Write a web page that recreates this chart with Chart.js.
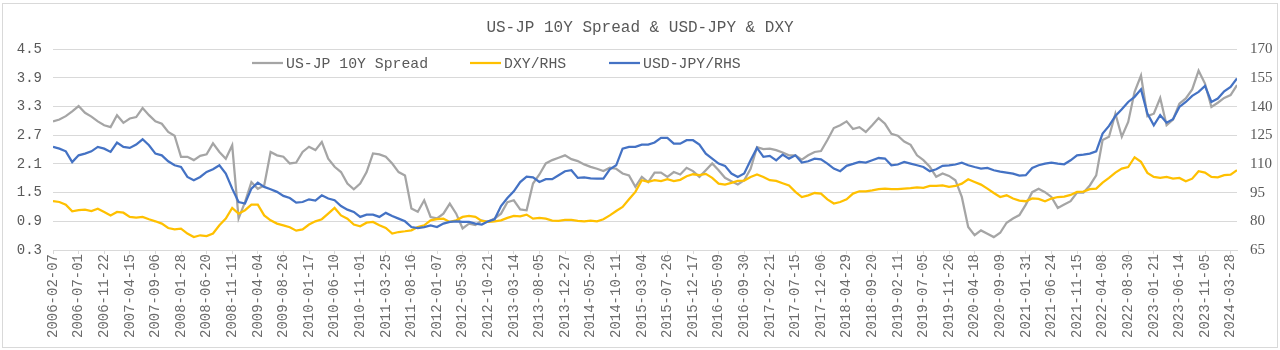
<!DOCTYPE html>
<html>
<head>
<meta charset="utf-8">
<title>US-JP 10Y Spread & USD-JPY & DXY</title>
<script src="https://cdn.jsdelivr.net/npm/chart.js@4.4.1/dist/chart.umd.min.js"></script>
<style>
  html, body { margin: 0; padding: 0; background: #fff; }
  #wrap { width: 1280px; height: 350px; }
</style>
</head>
<body>
<div id="wrap"><canvas id="spreadChart" width="1280" height="350"></canvas></div>
<script>
// x-axis tick labels (one every 4 points)
const tickLabels = [
  "2006-02-07", "2006-07-01", "2006-11-22", "2007-04-15", "2007-09-06", "2008-01-28",
  "2008-06-20", "2008-11-11", "2009-04-04", "2009-08-26", "2010-01-17", "2010-06-10",
  "2010-11-01", "2011-03-25", "2011-08-16", "2012-01-07", "2012-05-30", "2012-10-21",
  "2013-03-14", "2013-08-05", "2013-12-27", "2014-05-20", "2014-10-11", "2015-03-04",
  "2015-07-26", "2015-12-17", "2016-05-09", "2016-09-30", "2017-02-21", "2017-07-15",
  "2017-12-06", "2018-04-29", "2018-09-20", "2019-02-11", "2019-07-05", "2019-11-26",
  "2020-04-18", "2020-09-09", "2021-01-31", "2021-06-24", "2021-11-15", "2022-04-08",
  "2022-08-30", "2023-01-21", "2023-06-14", "2023-11-05", "2024-03-28"
];
const pointsPerTick = 4;

const leftTicks = [0.3, 0.9, 1.5, 2.1, 2.7, 3.3, 3.9, 4.5];
const rightTicks = [65, 80, 95, 110, 125, 140, 155, 170];

// US-JP 10Y spread (LHS)
const spread = [
  2.99, 3.03, 3.10, 3.20, 3.31, 3.17, 3.09, 2.99, 2.91, 2.87, 3.12, 2.96, 3.05, 3.08, 3.27, 3.12,
  2.99, 2.94, 2.77, 2.69, 2.25, 2.25, 2.18, 2.27, 2.30, 2.53, 2.35, 2.21, 2.49, 0.96, 1.30, 1.72,
  1.58, 1.65, 2.35, 2.28, 2.25, 2.11, 2.13, 2.35, 2.46, 2.39, 2.56, 2.21, 2.04, 1.93, 1.69, 1.57,
  1.69, 1.93, 2.32, 2.30, 2.25, 2.11, 1.93, 1.86, 1.17, 1.10, 1.34, 0.99, 0.96, 1.06, 1.27, 1.06,
  0.75, 0.85, 0.82, 0.92, 0.89, 0.96, 1.06, 1.30, 1.34, 1.15, 1.13, 1.69, 1.88, 2.11, 2.18, 2.23,
  2.28, 2.20, 2.16, 2.09, 2.04, 2.00, 1.95, 2.02, 2.00, 1.90, 1.86, 1.62, 1.83, 1.72, 1.92, 1.92,
  1.83, 1.93, 1.88, 2.02, 1.95, 1.83, 1.97, 2.11, 1.97, 1.81, 1.74, 1.67, 1.76, 2.00, 2.45, 2.41,
  2.42, 2.39, 2.34, 2.28, 2.28, 2.19, 2.28, 2.35, 2.37, 2.60, 2.85, 2.91, 2.99, 2.83, 2.87, 2.77,
  2.91, 3.06, 2.94, 2.73, 2.69, 2.57, 2.50, 2.28, 2.18, 2.04, 1.83, 1.90, 1.85, 1.76, 1.41, 0.78,
  0.61, 0.71, 0.64, 0.57, 0.66, 0.87, 0.96, 1.03, 1.25, 1.51, 1.58, 1.51, 1.41, 1.18, 1.25, 1.32,
  1.50, 1.50, 1.65, 1.86, 2.60, 2.67, 3.15, 2.67, 2.98, 3.61, 3.95, 3.10, 3.15, 3.48, 2.91, 3.03,
  3.36, 3.47, 3.66, 4.05, 3.78, 3.29, 3.38, 3.48, 3.54, 3.75
];

// DXY (RHS)
const dxy = [
  90.5, 90.1, 88.7, 85.2, 85.8, 86.1, 85.4, 86.6, 84.9, 83.1, 84.9, 84.5, 82.3, 81.9, 82.3, 81.1,
  80.0, 78.8, 76.5, 75.8, 76.2, 73.6, 71.8, 72.7, 72.3, 73.6, 77.9, 81.4, 87.0, 84.0, 85.8, 88.7,
  88.7, 83.1, 80.5, 78.8, 77.9, 76.9, 75.1, 75.8, 78.3, 80.0, 81.1, 84.0, 87.0, 83.1, 81.4, 78.3,
  77.4, 79.3, 79.7, 77.9, 76.5, 73.6, 74.4, 74.8, 75.3, 77.0, 77.9, 80.5, 81.1, 81.4, 79.7, 80.5,
  82.3, 82.8, 82.3, 80.2, 79.7, 80.0, 80.5, 81.8, 82.8, 82.6, 83.5, 81.4, 81.8, 81.4, 80.4, 80.2,
  80.7, 80.7, 80.2, 80.0, 80.4, 80.0, 81.1, 83.1, 85.4, 87.5, 91.5, 95.4, 101.5, 100.6, 101.5, 101.0,
  102.0, 101.0, 101.7, 103.6, 104.6, 104.1, 104.8, 102.7, 99.7, 99.2, 100.1, 101.1, 101.3, 103.2, 104.5, 103.2,
  101.5, 101.1, 99.9, 98.7, 95.4, 92.7, 93.6, 94.8, 94.5, 91.5, 89.3, 90.1, 91.5, 94.5, 95.7, 95.7,
  96.2, 96.8, 97.1, 96.8, 96.8, 97.1, 97.3, 97.8, 97.5, 98.5, 98.5, 98.8, 98.0, 98.5, 99.7, 102.0,
  100.6, 99.2, 97.1, 94.8, 92.7, 93.6, 91.9, 90.8, 90.5, 92.0, 91.7, 90.5, 91.9, 92.7, 92.9, 93.8,
  95.4, 95.5, 96.8, 97.1, 100.2, 102.7, 105.5, 107.6, 108.4, 113.5, 111.1, 105.3, 103.2, 102.7, 103.2, 102.3,
  102.7, 100.9, 102.3, 106.2, 105.5, 103.2, 103.0, 104.1, 104.4, 106.7
];

// USD-JPY (RHS)
const usdjpy = [
  118.9, 118.0, 116.6, 111.0, 114.5, 115.4, 116.6, 118.9, 118.0, 116.3, 121.2, 118.9, 118.4, 120.1, 122.9, 119.8,
  115.4, 114.5, 111.4, 109.3, 108.4, 103.2, 101.5, 103.2, 105.8, 107.2, 109.3, 105.0, 97.1, 90.1, 89.3, 97.1,
  100.2, 98.0, 96.8, 95.4, 93.3, 92.2, 89.8, 90.1, 91.5, 90.8, 93.6, 91.9, 91.0, 88.0, 86.1, 84.9,
  82.3, 83.5, 83.5, 82.3, 84.4, 82.8, 81.4, 80.0, 77.0, 76.5, 77.0, 77.9, 77.0, 78.8, 79.7, 80.0,
  79.7, 79.7, 78.8, 78.3, 80.0, 81.1, 88.0, 92.2, 95.7, 100.5, 103.4, 103.0, 100.6, 102.0, 102.0, 104.1,
  106.2, 106.7, 102.7, 103.0, 102.5, 102.3, 102.3, 107.2, 109.3, 118.0, 118.9, 118.9, 120.1, 120.1, 121.2, 123.6,
  123.6, 120.6, 120.6, 122.4, 122.4, 120.1, 115.4, 112.8, 110.2, 109.0, 105.0, 103.2, 105.0, 111.9, 118.4, 113.7,
  114.2, 111.9, 114.9, 112.8, 114.5, 110.7, 111.4, 112.8, 112.4, 110.2, 107.6, 106.2, 109.0, 110.0, 111.1, 110.7,
  111.9, 113.1, 112.8, 109.3, 109.7, 111.1, 110.2, 109.3, 108.4, 106.2, 107.2, 109.0, 109.3, 109.7, 110.7, 109.3,
  108.4, 107.6, 107.9, 106.7, 106.0, 105.5, 104.9, 103.9, 104.1, 107.9, 109.3, 110.2, 110.7, 110.2, 109.8, 111.9,
  114.5, 114.9, 115.4, 116.6, 125.9, 129.9, 135.1, 138.6, 142.4, 145.1, 149.0, 136.3, 130.2, 135.5, 131.6, 133.4,
  139.8, 142.4, 145.6, 147.7, 150.8, 142.4, 144.2, 148.0, 150.3, 154.7
];

const seriesNames = ["US-JP 10Y Spread", "DXY/RHS", "USD-JPY/RHS"];
const seriesColors = ["#A5A5A5", "#FFC000", "#4472C4"];

const toXY = arr => arr.map((v, i) => ({ x: i / pointsPerTick, y: v }));
const lastX = (spread.length - 1) / pointsPerTick;

// legend drawn inside the plot area, like the Excel original
const insideLegend = {
  id: "insideLegend",
  afterDraw(chart) {
    const ctx = chart.ctx;
    const items = [
      { x: 252, textX: 286 },
      { x: 470, textX: 504 },
      { x: 609, textX: 643 }
    ];
    const y = 63;
    ctx.save();
    ctx.font = "14.8px 'Liberation Mono'";
    ctx.textBaseline = "middle";
    items.forEach((it, i) => {
      ctx.strokeStyle = seriesColors[i];
      ctx.lineWidth = 2.25;
      ctx.beginPath();
      ctx.moveTo(it.x, y);
      ctx.lineTo(it.x + 31, y);
      ctx.stroke();
      ctx.fillStyle = "#595959";
      ctx.fillText(seriesNames[i], it.textX, y + 1);
    });
    ctx.restore();
  }
};

const frame = {
  id: "frame",
  beforeDraw(chart) {
    const ctx = chart.ctx;
    ctx.save();
    ctx.fillStyle = "#fff";
    ctx.fillRect(0, 0, chart.width, chart.height);
    ctx.restore();
  },
  afterDraw(chart) {
    const ctx = chart.ctx;
    ctx.save();
    ctx.strokeStyle = "#d9d9d9";
    ctx.lineWidth = 1;
    ctx.strokeRect(2.5, 3.5, chart.width - 5, chart.height - 6);
    ctx.restore();
  }
};

const ctx = document.getElementById("spreadChart").getContext("2d");
new Chart(ctx, {
  type: "line",
  data: {
    datasets: [
      {
        label: seriesNames[0],
        data: toXY(spread),
        yAxisID: "y",
        borderColor: seriesColors[0],
        order: 2
      },
      {
        label: seriesNames[1],
        data: toXY(dxy),
        yAxisID: "y1",
        borderColor: seriesColors[1],
        order: 1
      },
      {
        label: seriesNames[2],
        data: toXY(usdjpy),
        yAxisID: "y1",
        borderColor: seriesColors[2],
        order: 0
      }
    ]
  },
  options: {
    responsive: false,
    animation: false,
    events: [],
    layout: { padding: 0 },
    elements: {
      line: { borderWidth: 2.25, tension: 0, fill: false },
      point: { radius: 0 }
    },
    plugins: {
      legend: { display: false },
      tooltip: { enabled: false },
      title: {
        display: true,
        text: "US-JP 10Y Spread & USD-JPY & DXY",
        color: "#595959",
        font: { family: "'Liberation Mono'", size: 16, weight: "normal" },
        padding: { top: 18, bottom: 12 }
      }
    },
    scales: {
      x: {
        type: "linear",
        min: 0,
        max: lastX,
        afterBuildTicks: s => { s.ticks = tickLabels.map((t, k) => ({ value: k })); },
        afterFit: s => { s.height = 100; },
        ticks: {
          autoSkip: false,
          minRotation: 90,
          maxRotation: 90,
          padding: 0,
          color: "#6b6b6b",
          font: { family: "'Liberation Mono'", size: 14 },
          callback: v => tickLabels[v]
        },
        grid: { drawOnChartArea: false, drawTicks: true, tickLength: 4, color: "#d9d9d9" },
        border: { display: true, color: "#d9d9d9" }
      },
      y: {
        position: "left",
        min: 0.3,
        max: 4.5,
        afterBuildTicks: s => { s.ticks = leftTicks.map(v => ({ value: v })); },
        afterFit: s => { s.width = 53; },
        ticks: {
          padding: 11,
          color: "#595959",
          font: { family: "'Liberation Mono'", size: 14 },
          callback: v => v.toFixed(1)
        },
        grid: { color: "#d9d9d9", drawTicks: false },
        border: { display: false }
      },
      y1: {
        position: "right",
        min: 65,
        max: 170,
        afterBuildTicks: s => { s.ticks = rightTicks.map(v => ({ value: v })); },
        afterFit: s => { s.width = 43; },
        ticks: {
          padding: 13,
          color: "#595959",
          font: { family: "'Liberation Serif'", size: 15 },
          callback: v => String(v)
        },
        grid: { drawOnChartArea: false, drawTicks: false },
        border: { display: false }
      }
    }
  },
  plugins: [frame, insideLegend]
});
</script>
</body>
</html>
